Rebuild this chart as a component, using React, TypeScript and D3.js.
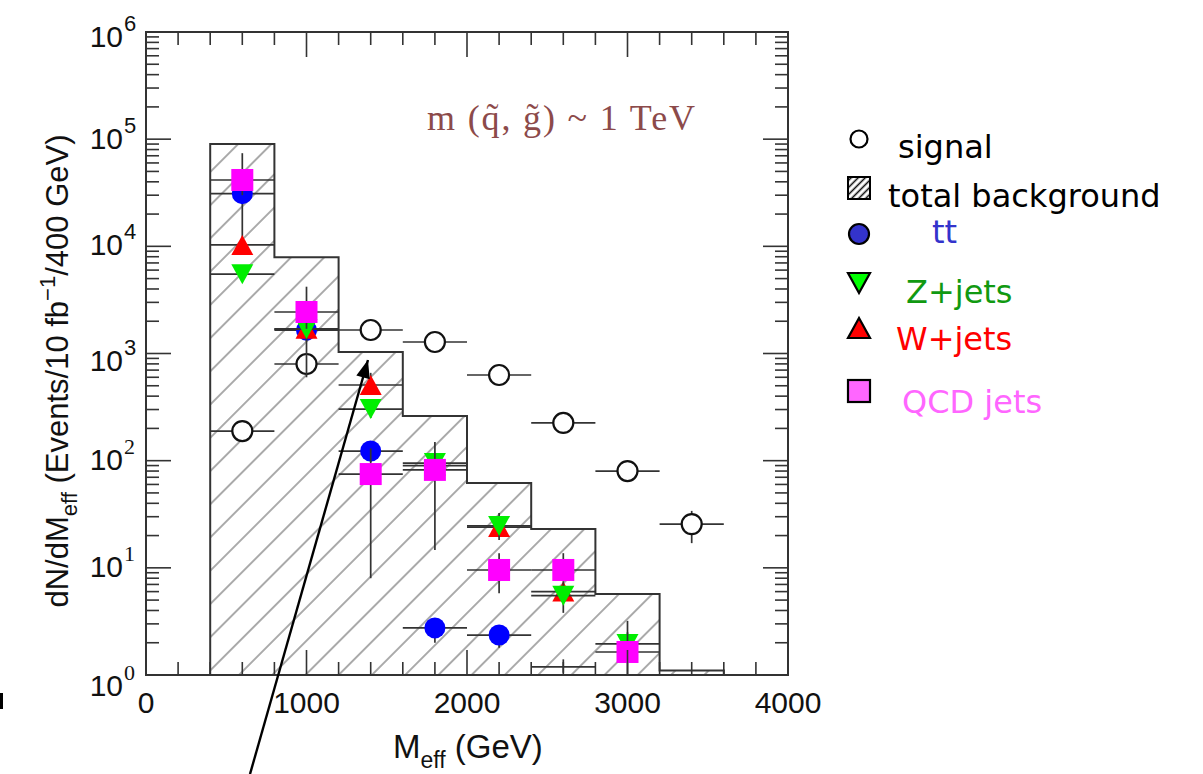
import React from "react";
import * as d3 from "d3";

// ---------- data ----------
const binEdges = [400, 800, 1200, 1600, 2000, 2400, 2800, 3200, 3600];
const totalBkg = [90000, 7900, 1030, 261, 62, 23, 5.7, 1.1];
const centers = [600, 1000, 1400, 1800, 2200, 2600, 3000, 3400];

const signal = [189, 798, 1656, 1280, 630, 225, 80, 25.6];
const signalLo = [null, null, null, null, null, null, null, 17];
const signalHi = [null, null, null, null, null, null, null, 34];

const ttbar = [31000, 1650, 123, 2.75, 2.36, null, null, null];
const ttLo = [11000, 600, 97, 2.0, 1.8, null, null, null];
const ttHi = [42000, 2400, 150, 3.3, 2.8, null, null, null];

const wjets = [10300, 1700, 508, 90, 24, 6.0, null, null];
const wLo = [null, null, 430, null, 20, 5.0, null, null];
const wHi = [null, null, 660, null, 30, 7.2, null, null];

const zjets = [5500, 1690, 303, 95, 24.6, 5.5, 1.95, null];
const zLo = [null, 1300, 250, null, 18.2, 3.8, 1.3, null];
const zHi = [null, 2100, 360, null, 32.5, 7.5, 3.2, null];

const qcd = [41600, 2440, 75, 82, 9.55, 9.55, 1.64, null];
const qcdLo = [30000, 1700, 8, 14.7, 5.8, 7.5, 1.0, null];
const qcdHi = [74000, 4200, 130, 149, 13.7, 13.7, 2.5, null];

// an error bar drawn without a marker
const bareX = [2600];
const bareY = [1.19];
const bareLo = [1.05];
const bareHi = [1.4];

const xMajorTicks = [0, 1000, 2000, 3000, 4000];
const yDecades = [0, 1, 2, 3, 4, 5, 6];
const yLabelShift = [21, 9, 9, 17, 9, 10, 15];

const legendItems = ["signal", "total background", "tt", "Z+jets", "W+jets", "QCD jets"];

// ---------- layout ----------
const L = 146, R = 788, T = 32, B = 675;
const x = d3.scaleLinear().domain([0, 4000]).range([L, R]);
const y = d3.scaleLog().domain([1, 1e6]).range([B, T]);
const HALF = 200;

const AX = "#333";

function upTri(cx: number, cy: number, w = 11, h = 10) {
  return `M${cx - w},${cy + h}L${cx + w},${cy + h}L${cx},${cy - h}Z`;
}
function downTri(cx: number, cy: number, w = 11, h = 10) {
  return `M${cx - w},${cy - h}L${cx + w},${cy - h}L${cx},${cy + h}Z`;
}

type Kind = "open" | "circle" | "up" | "down" | "square";

function Series({ vals, lo, hi, kind, color }: { vals: (number | null)[]; lo: (number | null)[]; hi: (number | null)[]; kind: Kind; color: string }) {
  const items: any[] = [];
  vals.forEach((v, i) => {
    if (v == null) return;
    const cx = x(centers[i]);
    const cy = y(v);
    items.push(
      <line key={"h" + i} x1={x(centers[i] - HALF)} x2={x(centers[i] + HALF)} y1={cy} y2={cy} stroke={AX} strokeWidth={1.7} />
    );
    if (lo[i] != null && hi[i] != null) {
      items.push(
        <line key={"v" + i} x1={cx} x2={cx} y1={y(Math.max(lo[i] as number, 1))} y2={y(hi[i] as number)} stroke={AX} strokeWidth={1.7} />
      );
    }
  });
  vals.forEach((v, i) => {
    if (v == null) return;
    const cx = x(centers[i]);
    const cy = y(v);
    if (kind === "open") items.push(<circle key={"m" + i} cx={cx} cy={cy} r={10} fill="white" stroke="#111" strokeWidth={2.2} />);
    if (kind === "circle") items.push(<circle key={"m" + i} cx={cx} cy={cy} r={10.5} fill={color} />);
    if (kind === "up") items.push(<path key={"m" + i} d={upTri(cx, cy)} fill={color} />);
    if (kind === "down") items.push(<path key={"m" + i} d={downTri(cx, cy)} fill={color} />);
    if (kind === "square") items.push(<rect key={"m" + i} x={cx - 11} y={cy - 11} width={22} height={22} fill={color} />);
  });
  return <g>{items}</g>;
}

export default function App() {
  // histogram step path
  let hp = `M${x(binEdges[0])},${y(1)}`;
  totalBkg.forEach((v, i) => {
    hp += `L${x(binEdges[i])},${y(v)}L${x(binEdges[i + 1])},${y(v)}`;
  });
  hp += `L${x(binEdges[binEdges.length - 1])},${y(1)}`;
  const fillPath = hp + "Z";

  const xMinor = d3.range(0, 4001, 200);
  const yMinor: number[] = [];
  for (let k = 0; k < 6; k++) for (let m = 2; m <= 9; m++) yMinor.push(m * Math.pow(10, k));

  const sans = "'Liberation Sans', Arial, Helvetica, sans-serif";
  const serif = "'Liberation Serif', 'Times New Roman', serif";
  const comic = "'Comic Sans MS', 'DejaVu Sans', sans-serif";

  const legX = 859;
  const legendRows = [
    { kind: "open", my: 139, tx: 898, ty: 158, color: "#000" },
    { kind: "hatch", my: 188, tx: 888, ty: 207, color: "#000" },
    { kind: "circle", my: 234, tx: 932, ty: 243, color: "#3333cc" },
    { kind: "down", my: 283, tx: 906, ty: 303, color: "#119911" },
    { kind: "up", my: 328, tx: 896, ty: 350, color: "#ff0000" },
    { kind: "square", my: 391, tx: 902, ty: 413, color: "#ff66ff" },
  ];

  return (
    <svg width={1203} height={774} style={{ position: "absolute", left: 0, top: 0, background: "white" }}>
      <defs>
        <pattern id="hatch" patternUnits="userSpaceOnUse" width={23.5} height={23.5} patternTransform="rotate(45)">
          <line x1={11.75} y1={0} x2={11.75} y2={23.5} stroke="#666" strokeWidth={1.1} />
        </pattern>
        <pattern id="hatchSmall" patternUnits="userSpaceOnUse" width={5} height={5} patternTransform="rotate(45)">
          <line x1={2.5} y1={0} x2={2.5} y2={5} stroke="#111" strokeWidth={1.6} />
        </pattern>
        <clipPath id="plotClip">
          <rect x={L} y={T} width={R - L} height={B - T} />
        </clipPath>
      </defs>
      <rect x={0} y={0} width={1203} height={774} fill="white" />

      {/* histogram */}
      <path d={fillPath} fill="url(#hatch)" />
      <path d={hp} fill="none" stroke={AX} strokeWidth={2} />

      <g clipPath="url(#plotClip)">
        <Series vals={signal} lo={signalLo} hi={signalHi} kind="open" color="#000" />
        <Series vals={ttbar} lo={ttLo} hi={ttHi} kind="circle" color="#0000ff" />
        <Series vals={wjets} lo={wLo} hi={wHi} kind="up" color="#ff0000" />
        <Series vals={zjets} lo={zLo} hi={zHi} kind="down" color="#00ee00" />
        <Series vals={qcd} lo={qcdLo} hi={qcdHi} kind="square" color="#ff00ff" />
        {bareX.map((bx, i) => (
          <g key={"b" + i}>
            <line x1={x(bx - HALF)} x2={x(bx + HALF)} y1={y(bareY[i])} y2={y(bareY[i])} stroke={AX} strokeWidth={1.7} />
            <line x1={x(bx)} x2={x(bx)} y1={y(bareLo[i])} y2={y(bareHi[i])} stroke={AX} strokeWidth={1.7} />
          </g>
        ))}
      </g>

      {/* frame */}
      <rect x={L} y={T} width={R - L} height={B - T} fill="none" stroke={AX} strokeWidth={2} />

      {/* x ticks */}
      {xMinor.map((v) => {
        const len = v % 1000 === 0 ? 25 : 13;
        return (
          <g key={"xt" + v}>
            <line x1={x(v)} x2={x(v)} y1={B} y2={B - len} stroke={AX} strokeWidth={1.6} />
            <line x1={x(v)} x2={x(v)} y1={T} y2={T + len} stroke={AX} strokeWidth={1.6} />
          </g>
        );
      })}
      {/* y ticks */}
      {yMinor.map((v) => (
        <g key={"ym" + v}>
          <line x1={L} x2={L + 13} y1={y(v)} y2={y(v)} stroke={AX} strokeWidth={1.6} />
          <line x1={R} x2={R - 13} y1={y(v)} y2={y(v)} stroke={AX} strokeWidth={1.6} />
        </g>
      ))}
      {yDecades.map((k) => (
        <g key={"yM" + k}>
          <line x1={L} x2={L + 25} y1={y(Math.pow(10, k))} y2={y(Math.pow(10, k))} stroke={AX} strokeWidth={1.6} />
          <line x1={R} x2={R - 25} y1={y(Math.pow(10, k))} y2={y(Math.pow(10, k))} stroke={AX} strokeWidth={1.6} />
        </g>
      ))}

      {/* x tick labels */}
      {xMajorTicks.map((v) => (
        <text key={"xl" + v} x={x(v)} y={713} textAnchor="middle" fontFamily={sans} fontSize={30} fill="#111">
          {v}
        </text>
      ))}
      {/* y tick labels */}
      {yDecades.map((k) => {
        const by = y(Math.pow(10, k)) + yLabelShift[k];
        return (
          <g key={"yl" + k}>
            <text x={123} y={by} textAnchor="end" fontFamily={sans} fontSize={30} fill="#111">
              10
            </text>
            <text x={124} y={by - 16} fontFamily={k <= 2 ? serif : sans} fontSize={22} fill="#111">
              {k}
            </text>
          </g>
        );
      })}

      {/* axis titles */}
      <text x={393} y={758} fontFamily={sans} fontSize={33} fill="#111">
        M<tspan fontSize={23} dy={10}>eff</tspan>
        <tspan dy={-10}> (GeV)</tspan>
      </text>
      <text transform="translate(68,371) rotate(-90)" textAnchor="middle" fontFamily={sans} fontSize={31} fill="#111">
        dN/dM<tspan fontSize={22} dy={9}>eff</tspan>
        <tspan dy={-9}> (Events/10 fb</tspan>
        <tspan fontSize={22} dy={-13}>−1</tspan>
        <tspan dy={13}>/400 GeV)</tspan>
      </text>

      {/* annotation */}
      <text x={427} y={130} fontFamily={serif} fontSize={36} fill="#8c4a4a" textLength={268} lengthAdjust="spacing">
        m (q̃, g̃) ~ 1 TeV
      </text>

      {/* arrow */}
      <line x1={x(648)} y1={y(0.119)} x2={x(1383)} y2={y(869)} stroke="#000" strokeWidth={2.4} />
      {(() => {
        const x1 = x(648), y1 = y(0.119), x2 = x(1383), y2 = y(869);
        const ang = Math.atan2(y2 - y1, x2 - x1);
        const len = 18, w = 7;
        const bx = x2 - len * Math.cos(ang), by = y2 - len * Math.sin(ang);
        const px = -Math.sin(ang) * w, py = Math.cos(ang) * w;
        return <path d={`M${x2},${y2}L${bx + px},${by + py}L${bx - px},${by - py}Z`} fill="#000" />;
      })()}

      {/* small mark at left edge */}
      <rect x={0} y={693} width={3} height={16} fill="#000" />

      {/* legend */}
      {legendRows.map((r, i) => {
        let m: any = null;
        if (r.kind === "open") m = <circle cx={legX} cy={r.my} r={8.5} fill="white" stroke="#000" strokeWidth={2.2} />;
        if (r.kind === "hatch")
          m = <rect x={legX - 11} y={r.my - 11} width={22} height={22} fill="url(#hatchSmall)" stroke="#000" strokeWidth={2} />;
        if (r.kind === "circle") m = <circle cx={legX} cy={r.my} r={10} fill={r.color} stroke="#000" strokeWidth={2.2} />;
        if (r.kind === "down") m = <path d={downTri(legX, r.my, 11, 10)} fill="#00ff00" stroke="#000" strokeWidth={2.2} />;
        if (r.kind === "up") m = <path d={upTri(legX, r.my, 11, 10)} fill={r.color} stroke="#000" strokeWidth={2.2} />;
        if (r.kind === "square") m = <rect x={legX - 11} y={r.my - 11} width={22} height={22} fill={r.color} stroke="#000" strokeWidth={2.2} />;
        return (
          <g key={"lg" + i}>
            {m}
            <text x={r.tx} y={r.ty} fontFamily={comic} fontSize={32} fill={r.color}>
              {legendItems[i]}
            </text>
          </g>
        );
      })}
    </svg>
  );
}
